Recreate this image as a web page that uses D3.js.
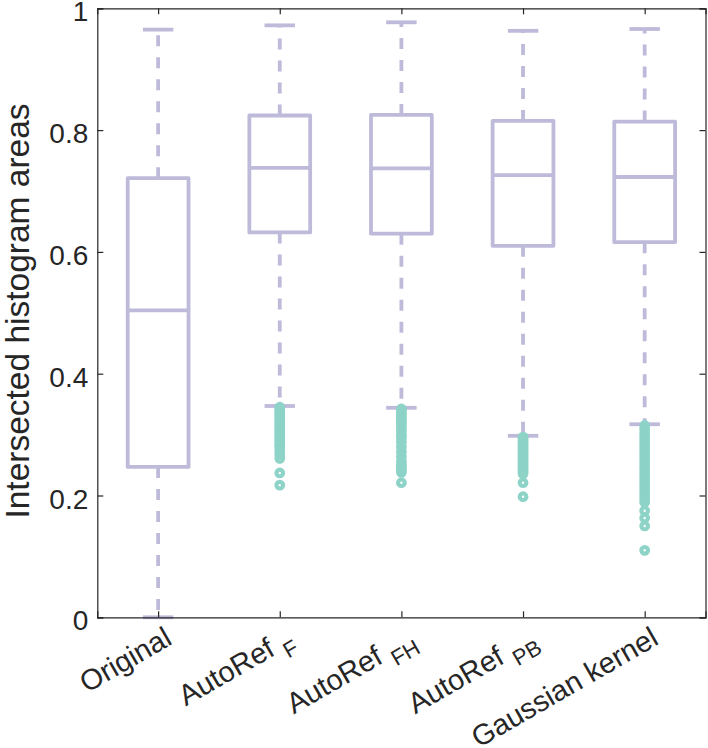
<!DOCTYPE html>
<html>
<head>
<meta charset="utf-8">
<script src="https://cdn.jsdelivr.net/npm/d3@7"></script>
<style>
  html, body { margin: 0; padding: 0; background: #fff; }
  text { font-family: "Liberation Sans", Arial, Helvetica, sans-serif; }
</style>
</head>
<body>
<svg id="chart" width="708" height="748"></svg>
<script>
// ---- data ----
const categories = ["Original", "AutoRef", "AutoRef", "AutoRef", "Gaussian kernel"];
const subscripts = ["", "F", "FH", "PB", ""];
const upperWhisker = [0.965, 0.972, 0.977, 0.963, 0.966];
const q3 = [0.721, 0.824, 0.825, 0.815, 0.814];
const median = [0.504, 0.738, 0.737, 0.726, 0.723];
const q1 = [0.247, 0.632, 0.630, 0.610, 0.616];
const lowerWhisker = [0.0, 0.347, 0.344, 0.298, 0.317];
const outliersOriginal = [];
const outliersF = [0.345, 0.342, 0.338, 0.335, 0.331, 0.327, 0.323, 0.319, 0.315, 0.311, 0.307, 0.303, 0.299, 0.295, 0.291, 0.287, 0.283, 0.280, 0.274, 0.268, 0.261, 0.237, 0.217];
const outliersFH = [0.342, 0.338, 0.334, 0.330, 0.325, 0.321, 0.316, 0.311, 0.306, 0.300, 0.295, 0.288, 0.280, 0.272, 0.264, 0.256, 0.250, 0.246, 0.242, 0.238, 0.221];
const outliersPB = [0.296, 0.293, 0.290, 0.287, 0.284, 0.281, 0.278, 0.275, 0.272, 0.269, 0.266, 0.263, 0.260, 0.257, 0.254, 0.251, 0.248, 0.245, 0.242, 0.239, 0.236, 0.221, 0.198];
const outliersGauss = [0.315, 0.309, 0.303, 0.297, 0.291, 0.285, 0.279, 0.273, 0.267, 0.261, 0.255, 0.249, 0.243, 0.237, 0.231, 0.225, 0.219, 0.213, 0.207, 0.201, 0.195, 0.189, 0.175, 0.163, 0.150, 0.110];
const outliers = [outliersOriginal, outliersF, outliersFH, outliersPB, outliersGauss];
const yTicks = [0, 0.2, 0.4, 0.6, 0.8, 1];
const yLabel = "Intersected histogram areas";

// ---- styles ----
const boxColor = "#bebada";
const outlierColor = "#8dd3c7";
const axisColor = "#262626";

const svg = d3.select("#chart");
const mLeft = 97.3, mRight = 705.5, mTop = 8.3, mBottom = 617.3;
const positions = categories.map((d, i) => i + 1);
const x = d3.scaleLinear().domain([0.5, 5.5]).range([mLeft, mRight]);
const y = d3.scaleLinear().domain([0, 1]).range([mBottom, mTop]);

const boxHalf = 0.25, capHalf = 0.125, lw = 3.8;

const boxes = svg.append("g");
positions.forEach((p, i) => {
  const g = boxes.append("g");
  g.append("line")
    .attr("x1", x(p)).attr("x2", x(p))
    .attr("y1", y(q3[i])).attr("y2", y(upperWhisker[i]))
    .attr("stroke", boxColor).attr("stroke-width", lw)
    .attr("stroke-dasharray", "11,11");
  g.append("line")
    .attr("x1", x(p)).attr("x2", x(p))
    .attr("y1", y(q1[i])).attr("y2", y(lowerWhisker[i]))
    .attr("stroke", boxColor).attr("stroke-width", lw)
    .attr("stroke-dasharray", "11,11");
  [upperWhisker[i], lowerWhisker[i]].forEach(v => {
    g.append("line")
      .attr("x1", x(p - capHalf)).attr("x2", x(p + capHalf))
      .attr("y1", y(v)).attr("y2", y(v))
      .attr("stroke", boxColor).attr("stroke-width", lw);
  });
  g.append("rect")
    .attr("x", x(p - boxHalf)).attr("width", x(p + boxHalf) - x(p - boxHalf))
    .attr("y", y(q3[i])).attr("height", y(q1[i]) - y(q3[i]))
    .attr("fill", "none").attr("stroke", boxColor).attr("stroke-width", lw)
    .attr("stroke-linejoin", "round");
  g.append("line")
    .attr("x1", x(p - boxHalf)).attr("x2", x(p + boxHalf))
    .attr("y1", y(median[i])).attr("y2", y(median[i]))
    .attr("stroke", boxColor).attr("stroke-width", lw);
  g.selectAll("circle.o").data(outliers[i]).enter().append("circle")
    .attr("class", "o")
    .attr("cx", x(p)).attr("cy", d => y(d)).attr("r", 3.3)
    .attr("fill", "none").attr("stroke", outlierColor).attr("stroke-width", 4.2);
});

// ---- axes ----
const fmt = d => d3.format("~g")(d);
const axL = svg.append("g").attr("transform", `translate(${mLeft},0)`)
  .call(d3.axisLeft(y).tickValues(yTicks).tickSize(-6).tickPadding(9).tickFormat(fmt));
const axR = svg.append("g").attr("transform", `translate(${mRight},0)`)
  .call(d3.axisRight(y).tickValues(yTicks).tickSize(-6).tickFormat(""));
const axB = svg.append("g").attr("transform", `translate(0,${mBottom})`)
  .call(d3.axisBottom(x).tickValues(positions).tickSize(-6).tickFormat(""));
const axT = svg.append("g").attr("transform", `translate(0,${mTop})`)
  .call(d3.axisTop(x).tickValues(positions).tickSize(-6).tickFormat(""));
[axL, axR, axB, axT].forEach(a => {
  a.select(".domain").attr("stroke", axisColor).attr("stroke-width", 1.2);
  a.selectAll(".tick line").attr("stroke", axisColor).attr("stroke-width", 1.2);
});
axL.selectAll(".tick text")
  .attr("font-size", 28).attr("fill", axisColor)
  .attr("font-family", "'Liberation Sans', Arial, sans-serif")
  .attr("dy", "0.45em");

// x tick labels (rotated)
const xl = svg.append("g");
positions.forEach((p, i) => {
  const t = xl.append("text")
    .attr("transform", `translate(${x(p) + 5},${mBottom + 8}) rotate(-30)`)
    .attr("text-anchor", "end")
    .attr("dy", "0.72em")
    .attr("font-size", 29).attr("fill", axisColor);
  if (subscripts[i]) {
    t.append("tspan").text(categories[i] + " ");
    t.append("tspan").text(subscripts[i]).attr("font-size", 22).attr("dy", "0.45em");
  } else {
    t.text(categories[i]);
  }
});

// y label
svg.append("text")
  .attr("transform", `translate(29,311) rotate(-90)`)
  .attr("text-anchor", "middle")
  .attr("font-size", 33.5).attr("fill", axisColor)
  .text(yLabel);
</script>
</body>
</html>
